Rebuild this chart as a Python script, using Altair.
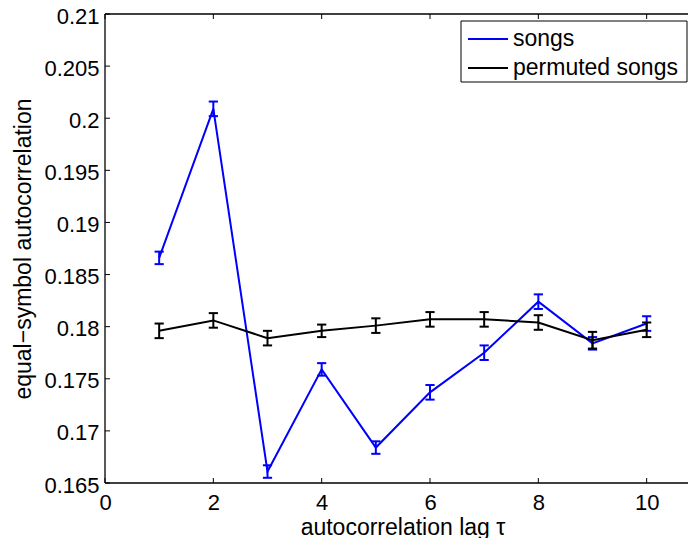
import altair as alt
import pandas as pd

lags = [1, 2, 3, 4, 5, 6, 7, 8, 9, 10]
songs = [0.1866, 0.2009, 0.1661, 0.1759, 0.1684, 0.1737, 0.1775, 0.1824, 0.1784, 0.1803]
songs_err = [0.0006, 0.0007, 0.0006, 0.0006, 0.0006, 0.0007, 0.0007, 0.0007, 0.0006, 0.0007]
perm = [0.1796, 0.1806, 0.1789, 0.1796, 0.1801, 0.1807, 0.1807, 0.1804, 0.1787, 0.1797]
perm_err = [0.0007, 0.0007, 0.0007, 0.0006, 0.0007, 0.0007, 0.0007, 0.0007, 0.0008, 0.0007]
series_names = ["songs", "permuted songs"]
series_colors = ["#0000ff", "#000000"]
x_ticks = [0, 2, 4, 6, 8, 10]
y_ticks = [0.165, 0.17, 0.175, 0.18, 0.185, 0.19, 0.195, 0.2, 0.205, 0.21]

W = 583
H = 469
FONT = "Liberation Sans"

xscale = alt.Scale(domain=[0, 10.763], nice=False, zero=False)
yscale = alt.Scale(domain=[0.165, 0.21], nice=False, zero=False)

x_axis = alt.Axis(values=x_ticks, format="d", labelFontSize=22, labelColor="black",
                  labelPadding=9, labelFlush=False, ticks=False, tickSize=0,
                  domain=False, grid=False, title="autocorrelation lag τ",
                  titleFontSize=23, titleFontWeight="normal", titleColor="black",
                  titleX=297.5, titleY=51, titleAlign="center", titleBaseline="alphabetic")
y_axis = alt.Axis(values=y_ticks, format=".3~f", labelFontSize=22, labelColor="black",
                  labelPadding=6, labelOffset=2, ticks=False, tickSize=0, domain=False,
                  grid=False, title="equal−symbol autocorrelation", titleFontSize=23,
                  titleFontWeight="normal", titleColor="black", titleX=-82, titleY=H / 2,
                  titleAngle=270, titleAlign="center", titleBaseline="middle")


def X(field):
    return alt.X(field, scale=xscale, axis=x_axis)


def Y(field):
    return alt.Y(field, scale=yscale, axis=y_axis)


def series_layers(vals, errs, name, color):
    df = pd.DataFrame({"lag": lags, "val": vals, "err": errs, "series": name})
    base = alt.Chart(df).transform_calculate(
        lo="datum.val - datum.err", hi="datum.val + datum.err",
        xl="datum.lag - 0.085", xr="datum.lag + 0.085")
    line = base.mark_line(color=color, strokeWidth=2).encode(x=X("lag:Q"), y=Y("val:Q"))
    bar = base.mark_rule(color=color, strokeWidth=2).encode(
        x=X("lag:Q"), y=Y("lo:Q"), y2="hi:Q")
    cap_lo = base.mark_rule(color=color, strokeWidth=2).encode(
        x=X("xl:Q"), x2="xr:Q", y=Y("lo:Q"))
    cap_hi = base.mark_rule(color=color, strokeWidth=2).encode(
        x=X("xl:Q"), x2="xr:Q", y=Y("hi:Q"))
    return [line, bar, cap_lo, cap_hi]


xt = pd.DataFrame({"t": x_ticks})
yt = pd.DataFrame({"t": y_ticks})
tick_bottom = alt.Chart(xt).mark_rule(color="black", strokeWidth=1).encode(
    x=X("t:Q"), y=alt.value(H), y2=alt.value(H - 5))
tick_top = alt.Chart(xt).mark_rule(color="black", strokeWidth=1).encode(
    x=X("t:Q"), y=alt.value(0), y2=alt.value(5))
tick_left = alt.Chart(yt).mark_rule(color="black", strokeWidth=1).encode(
    y=Y("t:Q"), x=alt.value(0), x2=alt.value(5))

frame_df = pd.DataFrame({"k": [0]})
frame_left = alt.Chart(frame_df).mark_rule(color="black", strokeWidth=1.3).encode(
    x=alt.value(0), y=alt.value(0), y2=alt.value(H))
frame_top = alt.Chart(frame_df).mark_rule(color="black", strokeWidth=1.3).encode(
    x=alt.value(0), x2=alt.value(W), y=alt.value(0))
frame_bottom = alt.Chart(frame_df).mark_rule(color="black", strokeWidth=1.3).encode(
    x=alt.value(0), x2=alt.value(W), y=alt.value(H))

leg0 = pd.DataFrame({"name": [series_names[0]]})
leg1 = pd.DataFrame({"name": [series_names[1]]})
leg_box = alt.Chart(leg0).mark_rect(fill="white", stroke="black", strokeWidth=1).encode(
    x=alt.value(356), x2=alt.value(582), y=alt.value(7), y2=alt.value(68))
leg_l0 = alt.Chart(leg0).mark_rule(color=series_colors[0], strokeWidth=2).encode(
    x=alt.value(363), x2=alt.value(403), y=alt.value(25))
leg_l1 = alt.Chart(leg1).mark_rule(color=series_colors[1], strokeWidth=2).encode(
    x=alt.value(363), x2=alt.value(403), y=alt.value(54))
leg_t0 = alt.Chart(leg0).mark_text(align="left", baseline="middle", fontSize=23,
                                   font=FONT, color="black").encode(
    x=alt.value(408), y=alt.value(25), text="name:N")
leg_t1 = alt.Chart(leg1).mark_text(align="left", baseline="middle", fontSize=23,
                                   font=FONT, color="black").encode(
    x=alt.value(408), y=alt.value(54), text="name:N")

layers = (series_layers(songs, songs_err, series_names[0], series_colors[0])
          + series_layers(perm, perm_err, series_names[1], series_colors[1])
          + [tick_bottom, tick_top, tick_left, frame_left, frame_top, frame_bottom,
             leg_box, leg_l0, leg_l1, leg_t0, leg_t1])

chart = alt.layer(*layers).properties(
    width=W, height=H,
    autosize=alt.AutoSizeParams(type="none"),
    padding={"left": 97, "top": 6, "right": 0, "bottom": 55},
    background="white",
).configure(font=FONT).configure_view(strokeWidth=0, stroke="transparent")

chart.save("out.html", embed_options={"renderer": "svg", "actions": False})
